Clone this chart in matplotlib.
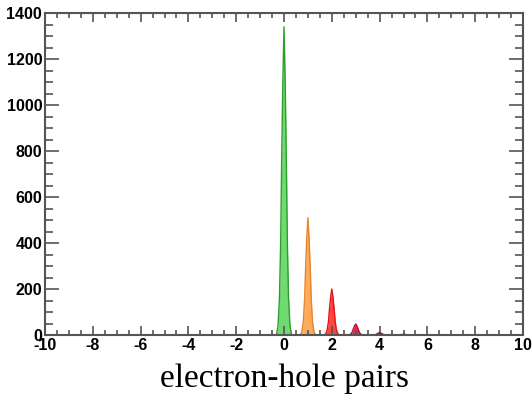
import matplotlib
matplotlib.use("Agg")
import matplotlib.pyplot as plt
from matplotlib.ticker import MultipleLocator
import numpy as np

plt.rcParams["axes.unicode_minus"] = False

# peak positions (electron-hole pairs), heights and colours
pairs = [0, 1, 2, 3, 4, 5]
heights = [1340, 510, 200, 48, 10, 3]
fill_colors = ["#5fd65f", "#ffa24a", "#ff3030", "#e8103c", "#b0104a", "#8a2a70"]
edge_colors = ["#2d9e2d", "#e8842a", "#e01818", "#c00830", "#8a0838", "#6a1858"]

# relative peak profile (offset from centre, fraction of peak height)
offsets = [-0.32, -0.25, -0.19, -0.14, -0.10, -0.05, 0.0, 0.05, 0.10, 0.14, 0.19, 0.25, 0.32]
profile = [0.0, 0.03, 0.12, 0.30, 0.55, 0.82, 1.0, 0.82, 0.55, 0.30, 0.12, 0.03, 0.0]

xticks = [-10, -8, -6, -4, -2, 0, 2, 4, 6, 8, 10]
yticks = [0, 200, 400, 600, 800, 1000, 1200, 1400]

fig = plt.figure(figsize=(5.32, 4.0), dpi=100)
ax = fig.add_axes([0.0846, 0.1625, 0.8985, 0.805])

off = np.array(offsets)
prof = np.array(profile)
for c, h, fc, ec in zip(pairs, heights, fill_colors, edge_colors):
    ax.fill_between(c + off, 0, h * prof, color=fc, alpha=0.9, lw=0)
    ax.plot(c + off, h * prof, color=ec, lw=1.0)

ax.set_xlim(-10, 10)
ax.set_ylim(0, 1400)
ax.set_xticks(xticks)
ax.set_yticks(yticks)
ax.set_xticklabels([str(v) for v in xticks])
ax.set_yticklabels([str(v) for v in yticks])
ax.xaxis.set_minor_locator(MultipleLocator(0.5))
ax.yaxis.set_minor_locator(MultipleLocator(50))
ax.tick_params(which="both", direction="in", top=True, right=True, color="#555555", width=1.2)
ax.tick_params(axis="y", which="major", length=10)
ax.tick_params(axis="y", which="minor", length=5.5)
ax.tick_params(axis="x", which="major", length=6.5)
ax.tick_params(axis="x", which="minor", length=3.5)
ax.tick_params(axis="both", which="major", labelsize=11.5, pad=2)
for lab in ax.get_xticklabels() + ax.get_yticklabels():
    lab.set_fontfamily("Liberation Sans")
    lab.set_fontweight("bold")
for s in ax.spines.values():
    s.set_color("#555555")
    s.set_linewidth(1.5)

ax.set_xlabel("electron-hole pairs", fontfamily="Liberation Serif", fontsize=24, labelpad=8)

fig.savefig("out.png", dpi=100)
